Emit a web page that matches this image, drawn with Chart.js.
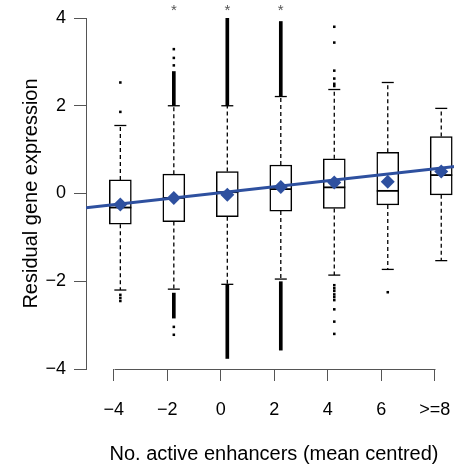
<!DOCTYPE html>
<html><head><meta charset="utf-8">
<script src="https://cdn.jsdelivr.net/npm/chart.js@4.4.1/dist/chart.umd.min.js"></script>
<style>html,body{margin:0;padding:0;overflow:hidden;background:#fff}</style>
</head><body>
<canvas id="c" width="462" height="466" style="display:block;width:462px;height:466px"></canvas>
<script>
// ---- data ----
const categories = ['\u22124', '\u22122', '0', '2', '4', '6', '>=8'];
const q1          = [-0.70, -0.64, -0.53, -0.40, -0.34, -0.26, -0.03];
const median      = [-0.32, -0.10,  0.03,  0.10,  0.14,  0.06,  0.42];
const q3          = [ 0.31,  0.44,  0.50,  0.65,  0.79,  0.94,  1.30];
const whiskerLow  = [-2.20, -2.18, -2.07, -1.95, -1.86, -1.73, -1.53];
const whiskerHigh = [ 1.55,  2.00,  2.00,  2.21,  2.37,  2.53,  1.94];
const means       = [-0.25, -0.10, -0.03,  0.15,  0.25,  0.27,  0.50];
const outlierBandHigh = [null, [2.00, 2.78], [2.00, 4.00], [2.21, 3.92], null, null, null];
const outlierBandLow  = [null, [-2.27, -2.84], [-2.07, -3.76], [-2.01, -3.57], null, null, null];
const outlierPoints = [
  [2.53, 1.86, -2.31, -2.38, -2.45],
  [2.92, 3.09, 3.29, -3.04, -3.22],
  [],
  [],
  [3.80, 3.44, 2.80, 2.62, 2.50, 2.45, -2.09, -2.16, -2.22, -2.30, -2.36, -2.43, -2.64, -2.92, -3.20],
  [-2.25],
  []
];
const significant = [false, true, true, true, false, false, false];
const regIntercept = -0.252;  // fitted value at first category
const regSlope = 0.1355;      // change per category step
const yTicks = [-4, -2, 0, 2, 4];

// ---- style ----
const BOX_OFFSET = 0.122;
const X_MIN = -0.52, X_MAX = 6.51;
const BLUE = '#2e509f';
const AXIS = '#555555';
Chart.defaults.font.family = '"Liberation Sans", Arial, Helvetica, sans-serif';
Chart.defaults.color = '#000';

const bx = i => i + BOX_OFFSET;

const boxes = categories.map((c, i) => ({x: bx(i), y: [q1[i], q3[i]]}));
const bands = [];
categories.forEach((c, i) => {
  if (outlierBandHigh[i]) bands.push({x: bx(i), y: outlierBandHigh[i]});
  if (outlierBandLow[i]) bands.push({x: bx(i), y: outlierBandLow[i]});
});
const whiskers = [];
categories.forEach((c, i) => {
  whiskers.push({x: bx(i), y: q3[i]}, {x: bx(i), y: whiskerHigh[i]}, {x: bx(i), y: null});
  whiskers.push({x: bx(i), y: q1[i]}, {x: bx(i), y: whiskerLow[i]}, {x: bx(i), y: null});
});
const caps = [];
categories.forEach((c, i) => {
  caps.push({x: bx(i), y: whiskerHigh[i]}, {x: bx(i), y: whiskerLow[i]});
});
const outs = [];
outlierPoints.forEach((arr, i) => arr.forEach(v => outs.push({x: bx(i), y: v})));
const meds = categories.map((c, i) => ({x: bx(i), y: median[i]}));
const meanPts = categories.map((c, i) => ({x: bx(i), y: means[i]}));
const reg = [X_MIN, X_MAX].map(x => ({x: x, y: regIntercept + regSlope * x}));

const customAxes = {
  id: 'customAxes',
  afterDraw(chart) {
    const {ctx, scales: {x}, chartArea} = chart;
    ctx.save();
    ctx.strokeStyle = AXIS;
    ctx.lineWidth = 1;
    const yy = Math.round(chartArea.bottom) + 0.5;
    ctx.beginPath();
    ctx.moveTo(Math.round(x.getPixelForValue(0)) + 0.5, yy);
    ctx.lineTo(Math.round(x.getPixelForValue(categories.length - 1)) + 0.5, yy);
    ctx.stroke();
    ctx.fillStyle = AXIS;
    ctx.font = '15px "Liberation Sans", Arial, sans-serif';
    ctx.textAlign = 'center';
    ctx.textBaseline = 'alphabetic';
    significant.forEach((s, i) => {
      if (s) ctx.fillText('*', x.getPixelForValue(bx(i)), chartArea.top - 3);
    });
    ctx.restore();
  }
};

new Chart(document.getElementById('c'), {
  type: 'scatter',
  data: {
    datasets: [
      {type: 'scatter', label: 'mean', data: meanPts, order: 0, pointStyle: 'rectRot',
       pointRadius: 7, backgroundColor: BLUE, borderWidth: 0},
      {type: 'line', label: 'regression', data: reg, order: 1, borderColor: BLUE,
       borderWidth: 3, pointRadius: 0, fill: false},
      {type: 'scatter', label: 'median', data: meds, order: 2, pointStyle: 'line',
       pointRadius: 11, borderColor: '#000', borderWidth: 1.8},
      {type: 'scatter', label: 'caps', data: caps, order: 3, pointStyle: 'line',
       pointRadius: 6, borderColor: '#000', borderWidth: 1.3},
      {type: 'scatter', label: 'outliers', data: outs, order: 4, pointStyle: 'rect',
       pointRadius: 1.8, backgroundColor: '#000', borderWidth: 0},
      {type: 'bar', label: 'outlier bands', data: bands, order: 5, barThickness: 3,
       grouped: false, backgroundColor: '#000', borderWidth: 0},
      {type: 'line', label: 'whiskers', data: whiskers, order: 6, borderColor: '#000',
       borderWidth: 1.3, borderDash: [4, 3], pointRadius: 0, spanGaps: false, fill: false},
      {type: 'bar', label: 'boxes', data: boxes, order: 7, barThickness: 22, grouped: false,
       backgroundColor: '#fff', borderColor: '#000', borderWidth: 1.5, borderSkipped: false}
    ]
  },
  options: {
    responsive: false,
    animation: false,
    events: [],
    layout: {autoPadding: false, padding: {top: 18, left: 0, right: 0, bottom: 0}},
    plugins: {legend: {display: false}, tooltip: {enabled: false}},
    scales: {
      x: {
        type: 'linear', min: X_MIN, max: X_MAX, offset: false,
        afterBuildTicks: s => { s.ticks = categories.map((c, i) => ({value: i})); },
        afterFit: s => { s.height = 97; s.paddingLeft = 0; s.paddingRight = 0; },
        ticks: {autoSkip: false, maxRotation: 0, padding: 18, font: {size: 18}, color: '#000',
                callback: (v, i) => categories[i]},
        grid: {offset: false, drawOnChartArea: false, drawTicks: true, tickLength: 12, color: AXIS},
        border: {display: false},
        title: {display: true, text: 'No. active enhancers (mean centred)', font: {size: 20},
                color: '#000', padding: {top: 0, bottom: 0}}
      },
      y: {
        type: 'linear', min: -4, max: 4,
        afterBuildTicks: s => { s.ticks = yTicks.map(v => ({value: v})); },
        afterFit: s => { s.width = 86; s.paddingTop = 0; s.paddingBottom = 0; },
        ticks: {padding: 8, font: {size: 18}, color: '#000',
                callback: v => (v < 0 ? '\u2212' + Math.abs(v) : String(v))},
        grid: {offset: false, drawOnChartArea: false, drawTicks: true, tickLength: 12, color: AXIS},
        border: {display: true, color: AXIS, width: 1},
        title: {display: true, text: 'Residual gene expression', font: {size: 20},
                color: '#000', padding: {top: 19, bottom: 0}}
      }
    }
  },
  plugins: [customAxes]
});
</script>
</body></html>
